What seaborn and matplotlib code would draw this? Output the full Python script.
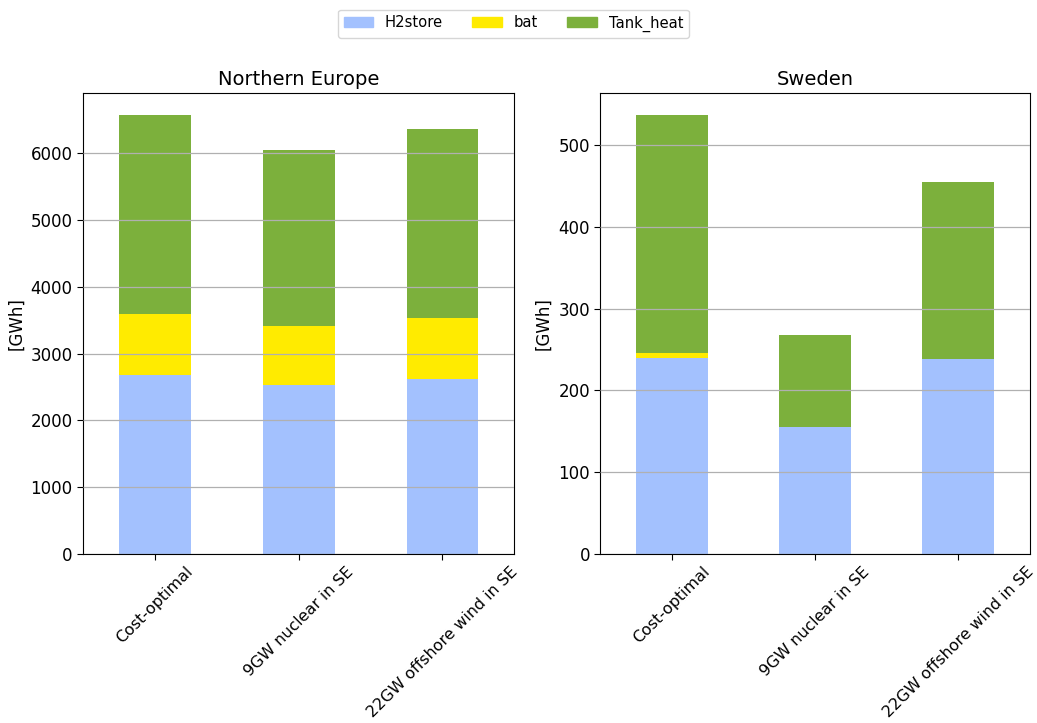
import numpy as np
import matplotlib
matplotlib.use("Agg")
import matplotlib.pyplot as plt
import seaborn as sns
from matplotlib.patches import Patch

sns.set_style("white")
plt.rcParams['font.family'] = ['DejaVu Sans']
plt.rcParams['text.color'] = 'black'
plt.rcParams['axes.labelcolor'] = 'black'
plt.rcParams['xtick.color'] = 'black'
plt.rcParams['ytick.color'] = 'black'

scenarios = ['Cost-optimal', '9GW nuclear in SE', '22GW offshore wind in SE']
techs = ['H2store', 'bat', 'Tank_heat']
colors = {'H2store': '#a3c1fe', 'bat': '#ffeb00', 'Tank_heat': '#7cb03c'}

# storage capacities [GWh]
ne_h2store = [2683, 2523, 2623]
ne_bat = [908, 889, 913]
ne_tank_heat = [2982, 2638, 2833]

se_h2store = [239.4, 155.5, 238.2]
se_bat = [6.1, 0.0, 0.0]
se_tank_heat = [291.0, 112.7, 216.6]

panels = [
    ('Northern Europe', [ne_h2store, ne_bat, ne_tank_heat]),
    ('Sweden', [se_h2store, se_bat, se_tank_heat]),
]

fig = plt.figure(figsize=(10.37, 7.23), dpi=100)
ax1 = fig.add_axes([0.080, 0.234, 0.416, 0.637])
ax2 = fig.add_axes([0.579, 0.234, 0.414, 0.637])

for ax, (title, series) in zip([ax1, ax2], panels):
    bottom = np.zeros(len(scenarios))
    for tech, vals in zip(techs, series):
        sns.barplot(x=scenarios, y=vals, ax=ax, color=colors[tech], width=0.5,
                    bottom=bottom, saturation=1, linewidth=0)
        bottom = bottom + np.array(vals)
    ax.set_xlim(-0.5, 2.5)
    ax.set_ylim(0, bottom.max() * 1.05)
    ax.set_title(title, fontsize=14, color='black')
    ax.set_ylabel('[GWh]', fontsize=12)
    ax.tick_params(axis='y', labelsize=12, length=4, width=0.8, left=True)
    ax.tick_params(axis='x', labelsize=11.4, length=4, width=0.8, bottom=True)
    plt.setp(ax.get_xticklabels(), rotation=45, ha='center')
    ax.yaxis.grid(True, color='#b0b0b0', linewidth=0.9)
    ax.set_axisbelow(False)
    for sp in ax.spines.values():
        sp.set_color('black')
        sp.set_linewidth(0.8)

handles = [Patch(color=colors[t], label=t) for t in techs]
fig.legend(handles=handles, loc='upper center', ncol=3, bbox_to_anchor=(0.495, 0.997),
           fontsize=10.6, frameon=True, columnspacing=2.0)

fig.savefig('out.png', dpi=100)
